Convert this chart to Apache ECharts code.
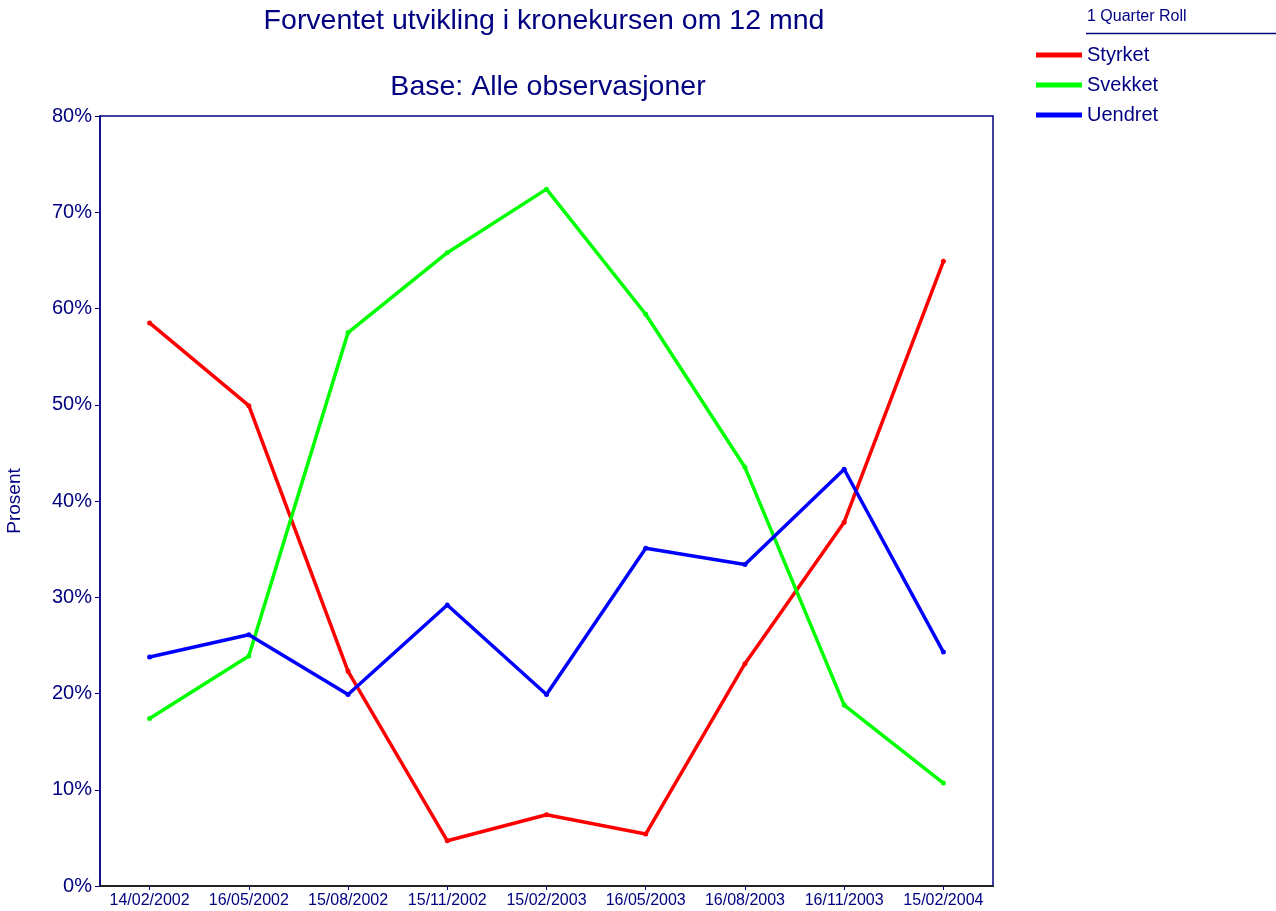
<!DOCTYPE html>
<html>
<head>
<meta charset="utf-8">
<script src="https://cdn.jsdelivr.net/npm/echarts@6/dist/echarts.min.js"></script>
<style>html,body{margin:0;padding:0;background:#fff;}#c{width:1276px;height:911px;}</style>
</head>
<body>
<div id="c"></div>
<script>
const categories = ['14/02/2002','16/05/2002','15/08/2002','15/11/2002','15/02/2003','16/05/2003','16/08/2003','16/11/2003','15/02/2004'];
const styrket = [58.5, 49.9, 22.3, 4.7, 7.4, 5.4, 23.1, 37.8, 64.9];
const svekket = [17.4, 23.9, 57.5, 65.8, 72.4, 59.4, 43.5, 18.8, 10.7];
const uendret = [23.8, 26.1, 19.9, 29.2, 19.9, 35.1, 33.4, 43.3, 24.3];
const yTicks = {min: 0, max: 80, interval: 10};

const navy = '#000080';
const font = 'Liberation Sans, Arial, sans-serif';
const chart = echarts.init(document.getElementById('c'));
function ser(name, data, color) {
  return {
    name, type: 'line', data,
    symbol: 'circle', symbolSize: 5, showSymbol: true,
    itemStyle: {color},
    lineStyle: {color, width: 3.5},
    animation: false
  };
}
chart.setOption({
  animation: false,
  textStyle: {fontFamily: font},
  title: [
    {text: 'Forventet utvikling i kronekursen om 12 mnd', left: 539, top: 2, textAlign: 'center',
     textStyle: {color: navy, fontSize: 28.5, fontWeight: 'normal', fontFamily: font}},
    {text: 'Base: Alle observasjoner', left: 543, top: 68, textAlign: 'center',
     textStyle: {color: navy, fontSize: 28.5, fontWeight: 'normal', fontFamily: font}}
  ],
  legend: {
    left: 1031, top: 40, orient: 'vertical', itemGap: 10,
    itemWidth: 46, itemHeight: 5, icon: 'rect',
    textStyle: {color: navy, fontSize: 20, fontFamily: font},
    data: ['Styrket','Svekket','Uendret']
  },
  graphic: [
    {type: 'text', left: 1087, top: 9, style: {text: '1 Quarter Roll', fill: navy, font: '16px ' + font}},
    {type: 'line', shape: {x1: 1086, y1: 33.5, x2: 1276, y2: 33.5}, style: {stroke: navy, lineWidth: 1.5}}
  ],
  grid: {left: 100, top: 116, right: 283, bottom: 25, show: true, borderColor: navy, borderWidth: 1.5,
         backgroundColor: '#fff', outerBoundsMode: 'none', containLabel: false},
  xAxis: {
    type: 'category', data: categories, boundaryGap: true,
    axisLine: {show: true, lineStyle: {color: '#222', width: 2}},
    axisTick: {show: true, alignWithLabel: true, length: 4, lineStyle: {color: navy}},
    axisLabel: {color: navy, fontSize: 16, margin: 7, interval: 0, fontFamily: font},
    splitLine: {show: false}
  },
  yAxis: {
    type: 'value', min: yTicks.min, max: yTicks.max, interval: yTicks.interval,
    name: 'Prosent', nameLocation: 'middle', nameGap: 76, nameRotate: 90,
    nameTextStyle: {color: navy, fontSize: 19, fontFamily: font},
    axisLine: {show: true, lineStyle: {color: navy, width: 1.5}},
    axisTick: {show: true, length: 5, lineStyle: {color: navy}},
    axisLabel: {color: navy, fontSize: 20, margin: 8, formatter: '{value}%', fontFamily: font},
    splitLine: {show: false}
  },
  series: [
    ser('Styrket', styrket, '#ff0000'),
    ser('Svekket', svekket, '#00ff00'),
    ser('Uendret', uendret, '#0000ff')
  ]
});
</script>
</body>
</html>
